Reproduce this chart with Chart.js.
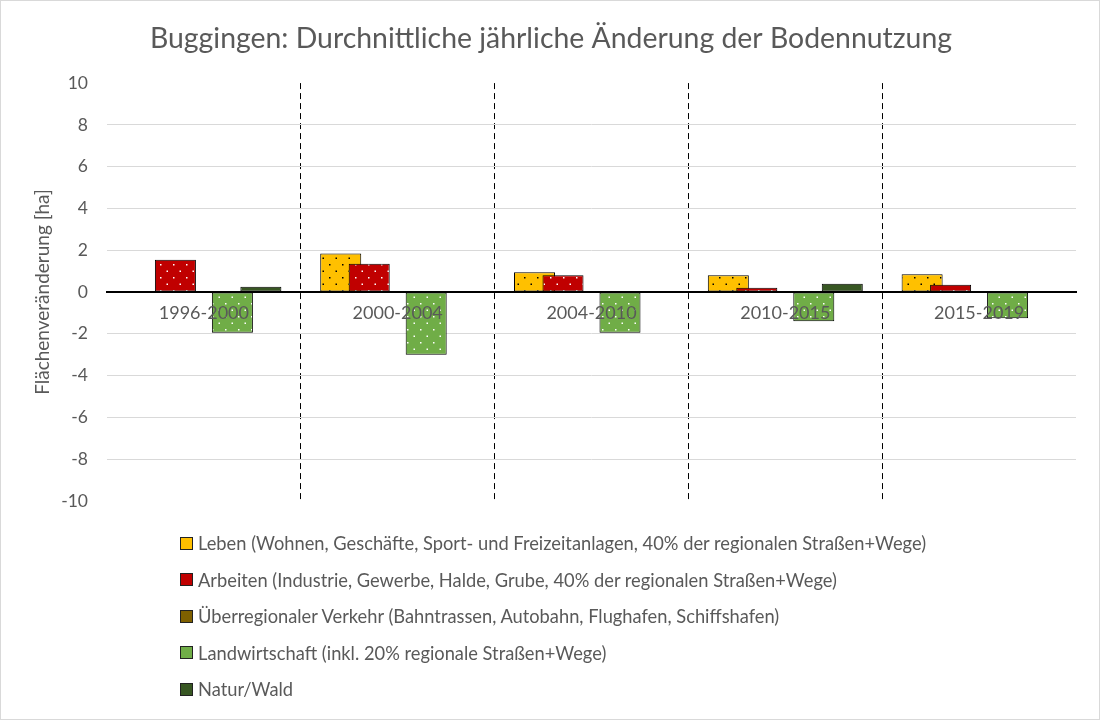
<!DOCTYPE html>
<html>
<head>
<meta charset="utf-8">
<script src="https://cdn.jsdelivr.net/npm/chart.js@4"></script>
<style>
    body { margin: 0; background: #fff; }
    #wrap { position: relative; width: 1100px; height: 720px; box-sizing: border-box; border: 1px solid #d9d9d9; }
    #chart { position: absolute; left: 0; top: 0; }
    #legend { position: absolute; left: 179px; top: 524px; font-family: Lato, sans-serif; font-size: 18.3px; color: #595959; }
    .item { height: 36.5px; display: flex; align-items: center; }
    .box { width: 11px; height: 11px; border: 1px solid #222; margin-right: 5px; }
</style>
</head>
<body>
<div id="wrap">
    <canvas id="chart" width="1100" height="720"></canvas>
    <div id="legend"></div>
</div>
<script>
// Daten
const categories = ["1996-2000", "2000-2004", "2004-2010", "2010-2015", "2015-2019"];
const seriesNames = [
    "Leben (Wohnen, Geschäfte, Sport- und Freizeitanlagen, 40% der regionalen Straßen+Wege)",
    "Arbeiten (Industrie, Gewerbe, Halde, Grube, 40% der regionalen Straßen+Wege)",
    "Überregionaler Verkehr (Bahntrassen, Autobahn, Flughafen, Schiffshafen)",
    "Landwirtschaft (inkl. 20% regionale Straßen+Wege)",
    "Natur/Wald"
];
const leben = [0.05, 1.85, 0.95, 0.8, 0.85];
const arbeiten = [1.55, 1.35, 0.8, 0.2, 0.35];
const verkehr = [0, 0, 0, 0, 0];
const landwirtschaft = [-1.95, -3.0, -1.95, -1.4, -1.25];
const natur = [0.25, 0, 0, 0.4, 0];
const yTicks = [-10, -8, -6, -4, -2, 0, 2, 4, 6, 8, 10];

const colors = ["#ffc000", "#c00000", "#7f6000", "#70ad47", "#385723"];
const dotColors = ["#000", "#fff", "#fff", "#fff", null];

// Punktmuster wie in Excel
function makePattern(base, dot) {
    const c = document.createElement("canvas");
    c.width = 13; c.height = 13;
    const ctx = c.getContext("2d");
    ctx.fillStyle = base;
    ctx.fillRect(0, 0, 13, 13);
    if (dot) {
        ctx.fillStyle = dot;
        ctx.fillRect(3, 3, 1.5, 1.5);
        ctx.fillRect(9.5, 9.5, 1.5, 1.5);
    }
    return ctx.createPattern(c, "repeat");
}

const values = [leben, arbeiten, verkehr, landwirtschaft, natur];
const datasets = values.map((v, i) => ({
    label: seriesNames[i],
    data: v,
    backgroundColor: makePattern(colors[i], dotColors[i]),
    borderColor: "#000",
    borderWidth: 1,
    borderSkipped: false,
    categoryPercentage: 0.735,
    barPercentage: 1.44
}));

// Balken von links nach rechts zeichnen (rechter Balken liegt oben)
const drawOrder = {
    id: "drawOrder",
    beforeDatasetsDraw(chart) {
        chart.data.datasets.forEach((ds, i) => {
            const meta = chart.getDatasetMeta(i);
            if (!meta.hidden) meta.controller.draw();
        });
        return false;
    }
};

Chart.defaults.font.family = "Lato, sans-serif";
Chart.defaults.color = "#595959";

new Chart(document.getElementById("chart"), {
    type: "bar",
    data: { labels: categories, datasets: datasets },
    options: {
        responsive: false,
        animation: false,
        layout: { padding: { left: 0, right: 0, top: 0, bottom: 220 } },
        plugins: {
            legend: { display: false },
            tooltip: { enabled: false },
            title: {
                display: true,
                text: "Buggingen: Durchnittliche jährliche Änderung der Bodennutzung",
                color: "#595959",
                font: { size: 28.4, weight: "normal" },
                padding: { top: 21, bottom: 27 }
            }
        },
        scales: {
            x: {
                position: { y: 0 },
                grid: {
                    offset: true,
                    drawTicks: false,
                    // nur Trennlinien zwischen den Zeiträumen
                    color: ctx => (ctx.type !== "tick" || ctx.index === 0) ? "rgba(0,0,0,0)" : "#000",
                    lineWidth: 1
                },
                border: { display: true, color: "#000", width: 2, dash: [6, 4] },
                ticks: { font: { size: 18 }, color: "#595959", padding: 10, maxRotation: 0, z: 1 }
            },
            y: {
                min: -10,
                max: 10,
                afterBuildTicks: scale => { scale.ticks = yTicks.map(v => ({ value: v })); },
                afterFit: scale => { scale.width = 106; },
                grid: {
                    drawTicks: false,
                    color: ctx => (ctx.tick && (ctx.tick.value === 10 || ctx.tick.value === -10 || ctx.tick.value === 0)) ? "rgba(0,0,0,0)" : "#d9d9d9",
                    lineWidth: 1
                },
                border: { display: false },
                ticks: { font: { size: 17.5 }, color: "#595959", padding: 19 },
                title: {
                    display: true,
                    text: "Flächenveränderung [ha]",
                    color: "#595959",
                    font: { size: 19 },
                    padding: { top: 30, bottom: 0 }
                }
            },
            // leerer Rand rechts, damit der Titel mittig über dem Bild steht
            rechts: {
                position: "right",
                grid: { display: false },
                border: { display: false },
                ticks: { display: false },
                afterFit: scale => { scale.width = 25; }
            }
        }
    },
    plugins: [drawOrder]
});

// Legende untereinander
const legend = document.getElementById("legend");
seriesNames.forEach((name, i) => {
    const row = document.createElement("div");
    row.className = "item";
    const box = document.createElement("span");
    box.className = "box";
    box.style.background = colors[i];
    const txt = document.createElement("span");
    txt.textContent = name;
    row.appendChild(box);
    row.appendChild(txt);
    legend.appendChild(row);
});
</script>
</body>
</html>
